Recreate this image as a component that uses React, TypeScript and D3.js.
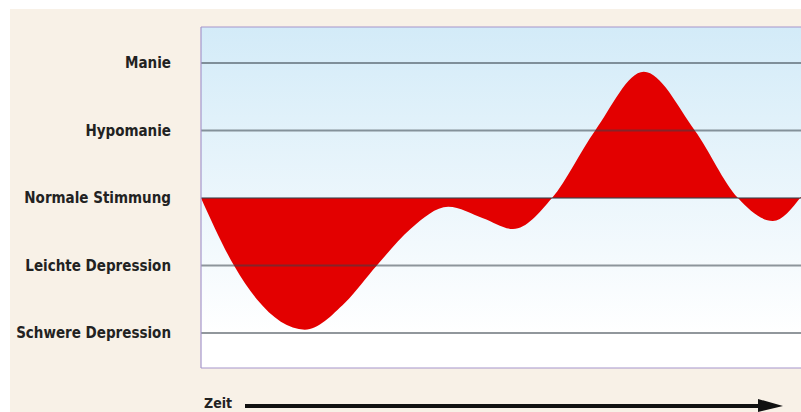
import React from "react";
import * as d3 from "d3";

const levels = ["Manie", "Hypomanie", "Normale Stimmung", "Leichte Depression", "Schwere Depression"];
const levelValues = [2, 1, 0, -1, -2];
const timeLabel = "Zeit";

// time (0..100) and mood (-2..2)
const times = [0, 5.5, 9.3, 17.3, 24, 29.3, 35, 41.2, 47, 52, 58.5, 65.7, 73.8, 82.3, 89.5, 95.3, 100];
const moods = [0, -1, -1.5, -1.95, -1.55, -1, -0.45, -0.13, -0.3, -0.46, 0, 1, 1.87, 1, 0, -0.34, 0.02];

const W = 801;
const H = 412;
const plotLeft = 201;
const plotTop = 27;
const plotBottom = 368;
const plotRight = 801;

export default function App() {
  const x = d3.scaleLinear().domain([0, 100]).range([plotLeft, plotRight]);
  const y = d3.scaleLinear().domain([-2, 2]).range([333, 63]);
  const data = times.map((t, i) => ({ t, v: moods[i] }));
  const area = d3
    .area<{ t: number; v: number }>()
    .x((d) => x(d.t))
    .y0(y(0))
    .y1((d) => y(d.v))
    .curve(d3.curveMonotoneX);

  const font = "'Liberation Sans Narrow', 'DejaVu Sans Condensed', 'Arial Narrow', sans-serif";

  return (
    <svg width={W} height={H} style={{ position: "absolute", left: 0, top: 0 }}>
      <defs>
        <linearGradient id="bg" x1="0" y1="0" x2="0" y2="1">
          <stop offset="0" stopColor="#d3ebf8" />
          <stop offset="0.9" stopColor="#ffffff" />
          <stop offset="1" stopColor="#ffffff" />
        </linearGradient>
        <clipPath id="plotclip">
          <rect x={plotLeft} y={plotTop} width={plotRight - plotLeft} height={plotBottom - plotTop} />
        </clipPath>
      </defs>
      <rect x={0} y={0} width={W} height={H} fill="#ffffff" />
      <rect x={10} y={9} width={W - 10} height={H - 9} fill="#f8f1e7" />
      <rect x={plotLeft} y={plotTop} width={plotRight - plotLeft} height={plotBottom - plotTop} fill="url(#bg)" />
      <g clipPath="url(#plotclip)">
        <path d={area(data) || ""} fill="#e30000" />
      </g>
      {levelValues.map((v, i) => (
        <line
          key={"g" + i}
          x1={plotLeft}
          x2={plotRight}
          y1={y(v)}
          y2={y(v)}
          stroke="rgba(55,65,75,0.55)"
          strokeWidth={2}
        />
      ))}
      <line x1={plotLeft} x2={plotRight} y1={plotTop} y2={plotTop} stroke="#a596cc" strokeWidth={1.2} />
      <line x1={plotLeft} x2={plotRight} y1={plotBottom} y2={plotBottom} stroke="#a596cc" strokeWidth={1.2} />
      <line x1={plotLeft} x2={plotLeft} y1={plotTop} y2={plotBottom} stroke="#a596cc" strokeWidth={1.2} />
      {levels.map((l, i) => (
        <text
          key={"l" + i}
          x={171}
          y={y(levelValues[i])}
          dy="0.35em"
          textAnchor="end"
          fontFamily={font}
          fontWeight="bold"
          fontSize={15}
          fill="#222"
        >
          {l}
        </text>
      ))}
      <text x={204} y={408} fontFamily={font} fontWeight="bold" fontSize={14} fill="#222">
        {timeLabel}
      </text>
      <line x1={245} x2={762} y1={406} y2={406} stroke="#111" strokeWidth={4} />
      <path d="M758,399 L783,406 L758,412 Z" fill="#111" />
    </svg>
  );
}
